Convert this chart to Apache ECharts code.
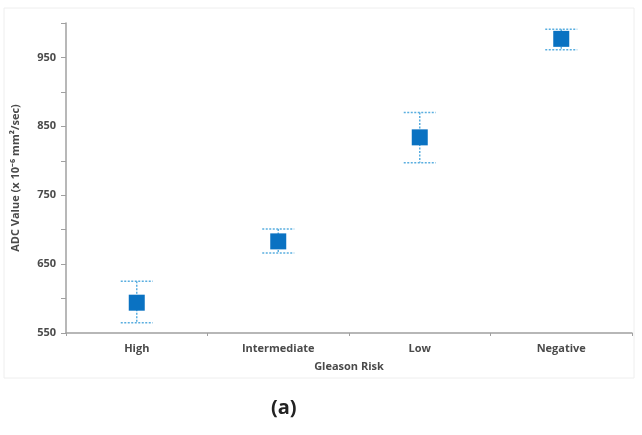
<!DOCTYPE html>
<html>
<head>
<meta charset="utf-8">
<script src="https://cdn.jsdelivr.net/npm/echarts@6/dist/echarts.min.js"></script>
<style>
  html, body { margin: 0; padding: 0; background: #fff; }
  #chart { width: 642px; height: 435px; }
</style>
</head>
<body>
<div id="chart"></div>
<script>
var categories = ['High', 'Intermediate', 'Low', 'Negative'];
var meanValues = [594, 683, 834, 977];
var upperValues = [625, 701, 870, 991];
var lowerValues = [565, 666, 797, 961];

var myChart = echarts.init(document.getElementById('chart'));

var errorData = [];
for (var i = 0; i < categories.length; i++) {
    errorData.push([i, lowerValues[i], upperValues[i]]);
}

var textColor = '#4a4a4a';
var fontFamily = '"Open Sans", "Liberation Sans", sans-serif';

var option = {
    backgroundColor: '#fff',
    animation: false,
    grid: {
        left: 66,
        right: 10,
        top: 23,
        bottom: 102
    },
    graphic: [
        {
            type: 'rect',
            shape: { x: 4, y: 8, width: 630, height: 370 },
            style: { fill: 'none', stroke: '#eeeeee', lineWidth: 1 },
            z: -1
        },
        {
            type: 'text',
            left: 271,
            top: 398,
            style: {
                text: '(a)',
                font: 'bold 20px ' + fontFamily,
                fill: '#222'
            }
        }
    ],
    xAxis: {
        type: 'category',
        data: categories,
        name: 'Gleason Risk',
        nameLocation: 'middle',
        nameGap: 28,
        nameTextStyle: { color: textColor, fontSize: 11, fontWeight: 'bold', fontFamily: fontFamily },
        axisLine: { lineStyle: { color: '#a0a0a0', width: 1.5 } },
        axisTick: { show: true, length: 3, lineStyle: { color: '#a0a0a0' } },
        axisLabel: { color: textColor, fontSize: 11, fontWeight: 'bold', fontFamily: fontFamily, margin: 10 },
        splitLine: { show: false }
    },
    yAxis: {
        type: 'value',
        min: 550,
        max: 1000,
        interval: 50,
        name: 'ADC Value (x 10\u207B\u2076 mm\u00B2/sec)',
        nameLocation: 'middle',
        nameGap: 45,
        nameTextStyle: { color: textColor, fontSize: 11, fontWeight: 'bold', fontFamily: fontFamily },
        axisLine: { show: true, lineStyle: { color: '#a0a0a0', width: 1.5 } },
        axisTick: { show: true, length: 5, lineStyle: { color: '#a0a0a0' } },
        axisLabel: {
            color: textColor,
            fontSize: 11,
            fontWeight: 'bold',
            fontFamily: fontFamily,
            margin: 10,
            formatter: function (value) {
                return (value - 550) % 100 === 0 && value < 1000 ? value : '';
            }
        },
        splitLine: { show: false }
    },
    series: [
        {
            name: 'error',
            type: 'custom',
            data: errorData,
            z: 1,
            renderItem: function (params, api) {
                var x = api.value(0);
                var low = api.coord([x, api.value(1)]);
                var high = api.coord([x, api.value(2)]);
                var half = 16;
                var style = { stroke: '#5aaee0', lineWidth: 1.5, lineDash: [2, 1.5] };
                return {
                    type: 'group',
                    children: [
                        { type: 'line', shape: { x1: high[0], y1: high[1], x2: low[0], y2: low[1] }, style: style },
                        { type: 'line', shape: { x1: high[0] - half, y1: high[1], x2: high[0] + half, y2: high[1] }, style: style },
                        { type: 'line', shape: { x1: low[0] - half, y1: low[1], x2: low[0] + half, y2: low[1] }, style: style }
                    ]
                };
            }
        },
        {
            name: 'ADC',
            type: 'scatter',
            data: meanValues,
            symbol: 'rect',
            symbolSize: 16,
            z: 2,
            itemStyle: { color: '#0a72c2', opacity: 1 }
        }
    ]
};

myChart.setOption(option);
</script>
</body>
</html>
